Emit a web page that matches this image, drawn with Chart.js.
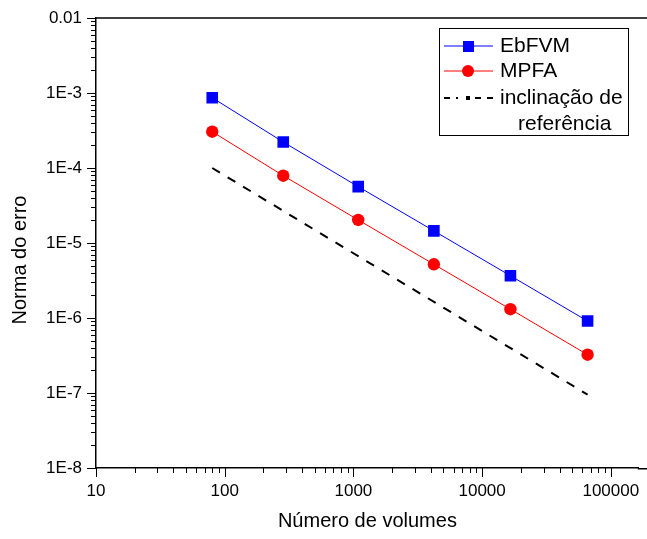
<!DOCTYPE html>
<html>
<head>
<meta charset="utf-8">
<script src="https://cdn.jsdelivr.net/npm/chart.js@4.4.1/dist/chart.umd.min.js"></script>
<style>
  html, body { margin: 0; padding: 0; background: #fff; overflow: hidden; }
</style>
</head>
<body>
<canvas id="chart" width="647" height="539"></canvas>
<script>
// dados
const volumes = [80, 285, 1090, 4220, 16600, 66000];
const erroEbFVM = [8.65e-4, 2.22e-4, 5.64e-5, 1.45e-5, 3.66e-6, 9.1e-7];
const erroMPFA = [3.05e-4, 7.9e-5, 2.03e-5, 5.2e-6, 1.31e-6, 3.24e-7];
const refVolumes = [80, 66000];
const refErro = [1.0e-4, 9.5e-8];

const xTickValues = [10, 100, 1000, 10000, 100000];
const yTickValues = [1e-8, 1e-7, 1e-6, 1e-5, 1e-4, 1e-3, 1e-2];
const yTickLabels = ["1E-8", "1E-7", "1E-6", "1E-5", "1E-4", "1E-3", "0.01"];

const FONT = '"Liberation Sans", Arial, sans-serif';

function line(ctx, x1, y1, x2, y2) {
  ctx.beginPath();
  ctx.moveTo(x1, y1);
  ctx.lineTo(x2, y2);
  ctx.stroke();
}

// marcas maiores e menores dos eixos + linhas até a borda direita
const axisTicks = {
  id: "axisTicks",
  afterDraw(chart) {
    const ctx = chart.ctx;
    const {left, top, right, bottom} = chart.chartArea;
    const xs = chart.scales.x, ys = chart.scales.y;
    ctx.save();
    ctx.strokeStyle = "#000";
    ctx.lineWidth = 1.5;
    line(ctx, left, top, chart.width, top);
    line(ctx, right - 1, bottom + 0.75, chart.width, bottom + 0.75);
    ctx.lineWidth = 1;
    xTickValues.forEach(d => {
      for (let m = 1; m <= 9; m++) {
        const v = d * m;
        if (v > xs.max) break;
        const px = Math.round(xs.getPixelForValue(v)) + 0.5;
        line(ctx, px, bottom, px, bottom + (m === 1 ? 9 : 5));
      }
    });
    yTickValues.forEach(d => {
      for (let m = 1; m <= 9; m++) {
        const v = d * m;
        if (v > ys.max * 1.0001) break;
        const py = Math.round(ys.getPixelForValue(v)) + 0.5;
        line(ctx, left - (m === 1 ? 9 : 5), py, left, py);
      }
    });
    // titulo do eixo y
    ctx.fillStyle = "#000";
    ctx.font = "20px " + FONT;
    ctx.textAlign = "center";
    ctx.textBaseline = "middle";
    ctx.translate(20, 260);
    ctx.rotate(-Math.PI / 2);
    ctx.fillText("Norma do erro", 0, 0);
    ctx.restore();
  }
};

// legenda no estilo do Origin
const legendBox = {
  id: "legendBox",
  afterDraw(chart) {
    const ctx = chart.ctx;
    ctx.save();
    ctx.strokeStyle = "#000";
    ctx.lineWidth = 1;
    ctx.strokeRect(439.5, 28.5, 189, 107);

    ctx.font = "21px " + FONT;
    ctx.textBaseline = "middle";
    ctx.fillStyle = "#000";

    // EbFVM
    ctx.strokeStyle = "#0000ff";
    line(ctx, 444, 46, 493, 46);
    ctx.fillStyle = "#0000ff";
    ctx.fillRect(463, 41, 11, 11);
    ctx.fillStyle = "#000";
    ctx.fillText(chart.data.datasets[0].label, 500, 46);

    // MPFA
    ctx.strokeStyle = "#ff0000";
    line(ctx, 444, 71, 493, 71);
    ctx.fillStyle = "#ff0000";
    ctx.beginPath();
    ctx.arc(468, 71, 6, 0, Math.PI * 2);
    ctx.fill();
    ctx.fillStyle = "#000";
    ctx.fillText(chart.data.datasets[1].label, 500, 71);

    // inclinacao
    ctx.fillStyle = "#000";
    ctx.fillRect(444, 97, 6, 2);
    ctx.fillRect(456, 97, 2, 2);
    ctx.fillRect(466, 96, 4, 4);
    ctx.fillRect(475, 97, 6, 2);
    ctx.fillRect(487, 97, 6, 2);
    const parts = chart.data.datasets[2].label.split("\n");
    ctx.fillText(parts[0], 500, 98);
    ctx.fillText(parts[1], 518, 124);
    ctx.restore();
  }
};

const ctx = document.getElementById("chart").getContext("2d");
new Chart(ctx, {
  type: "line",
  data: {
    datasets: [
      {
        label: "EbFVM",
        data: volumes.map((v, i) => ({x: v, y: erroEbFVM[i]})),
        borderColor: "#0000ff",
        backgroundColor: "#0000ff",
        borderWidth: 1,
        pointStyle: "rect",
        pointRadius: 8.2,
        pointHoverRadius: 8.2,
        pointBorderWidth: 0
      },
      {
        label: "MPFA",
        data: volumes.map((v, i) => ({x: v, y: erroMPFA[i]})),
        borderColor: "#ff0000",
        backgroundColor: "#ff0000",
        borderWidth: 1,
        pointStyle: "circle",
        pointRadius: 6.2,
        pointHoverRadius: 6.2,
        pointBorderWidth: 0
      },
      {
        label: "inclinação de\nreferência",
        data: refVolumes.map((v, i) => ({x: v, y: refErro[i]})),
        borderColor: "#000",
        borderWidth: 2,
        borderDash: [9, 9],
        pointRadius: 0
      }
    ]
  },
  options: {
    responsive: false,
    animation: false,
    layout: {padding: {top: 18, left: 0, right: 0, bottom: 0}},
    plugins: {legend: {display: false}, tooltip: {enabled: false}},
    scales: {
      x: {
        type: "logarithmic",
        min: 10,
        max: 165000,
        afterBuildTicks: s => { s.ticks = xTickValues.map(v => ({value: v})); },
        afterFit: s => { s.height = 71; s.paddingLeft = 0; s.paddingRight = 0; },
        ticks: {
          callback: v => String(v),
          font: {family: FONT, size: 17},
          color: "#000",
          padding: 13,
          maxRotation: 0,
          autoSkip: false
        },
        grid: {display: false, drawTicks: false},
        border: {display: true, color: "#000", width: 1.5},
        title: {
          display: true,
          text: "Número de volumes",
          font: {family: FONT, size: 20},
          color: "#000",
          padding: {top: 0, bottom: 6}
        }
      },
      y: {
        type: "logarithmic",
        min: 1e-8,
        max: 1e-2,
        afterBuildTicks: s => { s.ticks = yTickValues.map(v => ({value: v})); },
        afterFit: s => { s.width = 96; s.paddingTop = 0; s.paddingBottom = 0; },
        ticks: {
          callback: (v, i) => yTickLabels[i],
          font: {family: FONT, size: 17},
          color: "#000",
          padding: 14,
          autoSkip: false
        },
        grid: {display: false, drawTicks: false},
        border: {display: true, color: "#000", width: 1.5}
      }
    }
  },
  plugins: [axisTicks, legendBox]
});
</script>
</body>
</html>
